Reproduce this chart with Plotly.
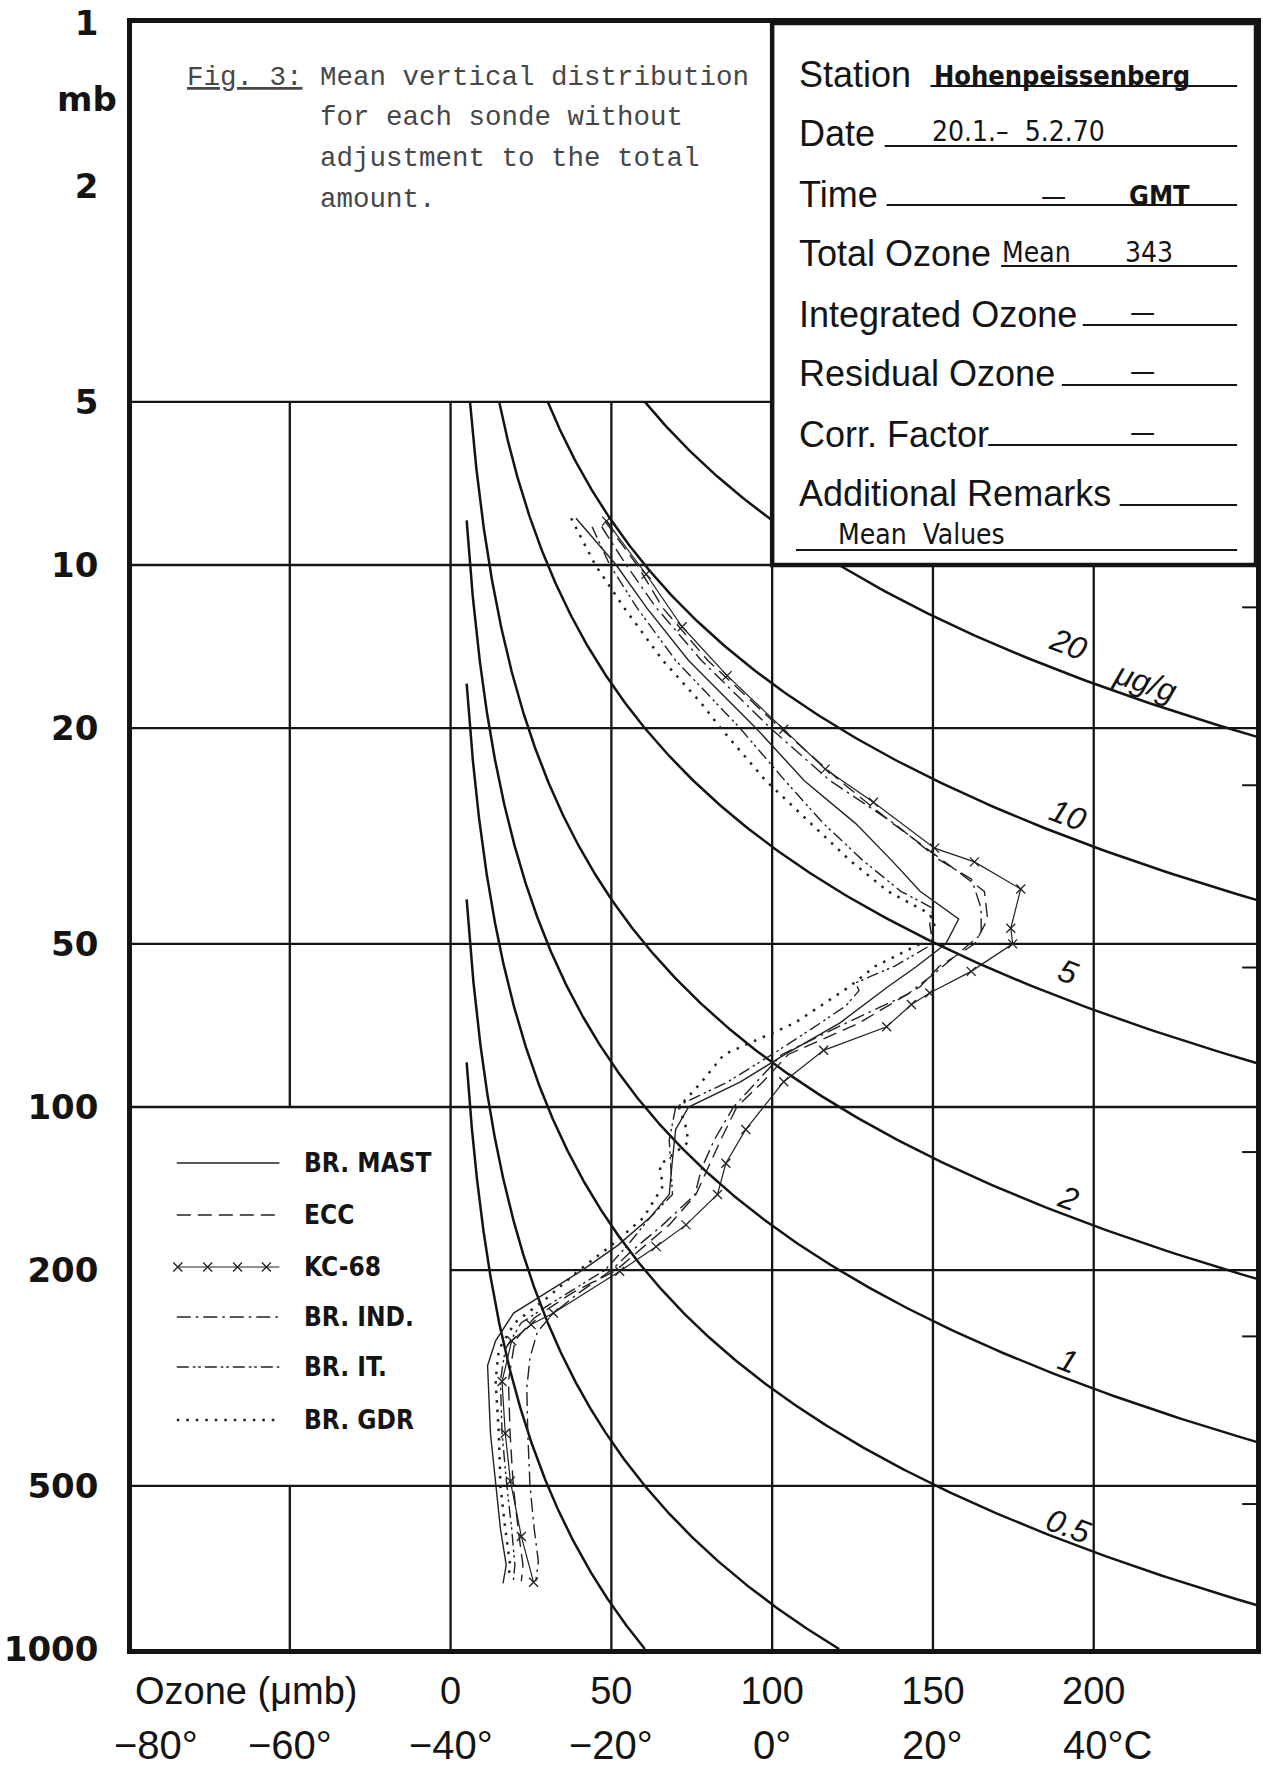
import numpy as np
import plotly.graph_objects as go

# ===================== data =====================
# pressure (mb) and ozone partial pressure (µmb) for each sonde type
MAST_P = [8.2, 10, 12, 15, 20, 25, 30, 35, 40, 45, 50, 55, 60, 70, 80, 90, 100, 110, 125, 145,
          160, 180, 200, 220, 240, 270, 300, 400, 500, 600, 700, 757]
MAST_O3 = [39, 51.5, 61, 74, 95, 110, 126, 137, 146, 158, 154, 145, 136, 121, 104, 90, 74, 70, 69, 68,
           62, 52, 41, 30, 19.6, 14, 11.5, 12.4, 14, 15.5, 17.3, 16.3]

ECC_P = [8.3, 10, 12, 15, 20, 25, 30, 35, 40, 45, 50, 55, 60, 70, 80, 90, 100, 115, 130, 145,
         165, 185, 200, 220, 245, 270, 320, 400, 500, 600, 700, 750]
ECC_O3 = [48, 58, 66, 80, 102.6, 121, 137.6, 153, 166, 167, 163, 152, 146, 127, 105, 97, 89, 84, 80, 76.3,
          68, 58, 51.5, 38, 26, 20, 18, 18.5, 19.5, 21, 22.5, 22]

KC_P = [8.3, 10.4, 13, 16, 20.1, 23.8, 27.4, 33.3, 35.3, 39.6, 46.8, 50, 56.2, 61.6, 64.7, 71.1, 78.6, 89.8,
        110, 127, 145, 165, 181, 201, 240, 252, 270, 321, 400, 490, 620, 753]
KC_O3 = [48.5, 60.8, 72, 86, 103.6, 116.5, 131.5, 150.5, 162.9, 177.3, 174.2, 174.8, 161.9, 149, 143.3, 135.6,
         116, 103.6, 91.8, 85.6, 83, 73.2, 63.9, 52.6, 32, 25, 19, 16, 17, 18.6, 22, 25.8]

IND_P = [8.5, 10, 12, 15, 20, 25, 30, 35, 38, 43, 48, 52, 57, 62, 70, 80, 90, 100, 115, 130,
         145, 165, 185, 200, 220, 240, 260, 290, 330, 400, 500, 600, 690, 750]
IND_O3 = [47, 54.6, 64, 78, 99.5, 118, 138, 152, 162, 165, 165, 158, 150, 142, 123, 103, 95, 88, 82, 78,
          76, 66, 56, 50, 40, 32, 27, 24.7, 23.7, 24, 24.7, 26, 27.3, 26.5]

IT_P = [8.5, 10, 12, 15, 20, 25, 30, 35, 40, 43, 46, 50, 55, 59, 61, 65, 70, 80, 90, 100,
        115, 130, 145, 160, 180, 200, 225, 250, 280, 320, 400, 500, 600, 700, 750]
IT_O3 = [44, 49.5, 58, 70, 90, 104, 116, 128, 140, 150, 149, 150, 138, 126, 127, 123, 115, 100, 86, 70,
         68, 68.5, 69, 62, 55, 48, 34, 22, 17, 15.5, 16, 17.5, 19, 20, 19.5]

GDR_P = [8.2, 9, 10, 12, 15, 18, 20, 25, 30, 35, 40, 44, 47, 50, 55, 60, 70, 80, 90, 100,
         108, 116, 128, 140, 160, 180, 200, 225, 250, 280, 320, 400, 500, 600, 700, 740]
GDR_O3 = [37.5, 41, 45, 54, 66, 78, 84, 98, 112, 124, 136, 149, 151, 146, 132, 124, 107, 85, 78, 71,
          73, 74, 65, 66, 60, 50, 40, 30, 20, 15, 14, 15, 15.5, 17, 18.5, 18]

SONDE_NAMES = ["BR. MAST", "ECC", "KC-68", "BR. IND.", "BR. IT.", "BR. GDR"]

MIXING_RATIOS = [0.1, 0.2, 0.5, 1, 2, 5, 10, 20]          # µg/g isolines
LABELLED_RATIOS = [20, 10, 5, 2, 1, 0.5]
RATIO_TEXT = ["20", "10", "5", "2", "1", "0.5"]

P_TICKS = [1, 2, 5, 10, 20, 50, 100, 200, 500, 1000]
P_TICK_TEXT = ["1", "2", "5", "10", "20", "50", "100", "200", "500", "1000"]
O3_TICKS = [0, 50, 100, 150, 200]
O3_TICK_TEXT = ["0", "50", "100", "150", "200"]
TEMP_TICKS = [-80, -60, -40, -20, 0, 20, 40]
TEMP_TICK_TEXT = ["\u221280°", "\u221260°", "\u221240°", "\u221220°", "0°", "20°", "40°C"]
ALT_TICK_P = [540.2, 265.0, 121.1, 55.29, 25.49, 11.97]   # 5,10,...,30 km

INFO_LABELS = ["Station", "Date", "Time", "Total Ozone", "Integrated Ozone",
               "Residual Ozone", "Corr. Factor", "Additional Remarks"]
STATION = "Hohenpeissenberg"
DATE_TEXT = "20.1.\u2013  5.2.70"
TIME_TEXT = "\u2014"
TIME_ZONE = "GMT"
TOTAL_NOTE = "Mean"
TOTAL_OZONE = "343"
EMPTY_FIELD = "\u2014"
REMARK = "Mean  Values"
CAPTION_TAG = "Fig. 3:"
CAPTION_LINES = ["Mean vertical distribution", "for each sonde without",
                 "adjustment to the total", "amount."]

# ===================== layout constants =====================
W, H = 1263, 1771
L, R, T, B = 132, 1261, 23, 1649          # plot area in pixels
X_RANGE = [-99.07, 250.46]
K_MR = 29.0 / 48.0                          # µmb per (µg/g * mb)
INK = "#141414"
PEN = "#222222"


def xp(px):
    return (px - L) / (R - L)


def yp(py):
    return (B - py) / (B - T)


fig = go.Figure()

# ---------- grid (segments) ----------
V_GRID = {-50: [(5, 100), (500, 1000)], 0: [(5, 1000)], 50: [(5, 1000)],
          100: [(10, 1000)], 150: [(10, 1000)], 200: [(10, 1000)]}
FULL = [(X_RANGE[0], X_RANGE[1])]
H_GRID = {5: [(X_RANGE[0], 100)], 10: FULL, 20: FULL, 50: FULL, 100: FULL,
          200: [(0, X_RANGE[1])], 500: FULL}
gx, gy = [], []
for oz, segs in V_GRID.items():
    for p0, p1 in segs:
        gx += [oz, oz, None]
        gy += [p0, p1, None]
for p, segs in H_GRID.items():
    for x0, x1 in segs:
        gx += [x0, x1, None]
        gy += [p, p, None]
fig.add_trace(go.Scatter(x=gx, y=gy, mode="lines", line=dict(color=INK, width=2.3),
                         hoverinfo="skip", showlegend=False))

# ---------- mixing-ratio isolines ----------
ix, iy = [], []
for r in MIXING_RATIOS:
    p0 = max(5.0, 5.0 / (K_MR * r))
    ps = np.geomspace(p0, 1000, 500)
    oz = K_MR * r * ps
    keep = oz <= X_RANGE[1] + 3
    ix += list(oz[keep]) + [None]
    iy += list(ps[keep]) + [None]
fig.add_trace(go.Scatter(x=ix, y=iy, mode="lines", line=dict(color=INK, width=2.5),
                         hoverinfo="skip", showlegend=False))

# ---------- altitude ticks on right border ----------
ax_, ay_ = [], []
for p in ALT_TICK_P:
    ax_ += [X_RANGE[1] - 4.3, X_RANGE[1], None]
    ay_ += [p, p, None]
fig.add_trace(go.Scatter(x=ax_, y=ay_, mode="lines", line=dict(color=INK, width=2),
                         hoverinfo="skip", showlegend=False))

# ---------- sonde profiles ----------
STYLES = {
    "BR. MAST": dict(dash="solid", width=1.4),
    "ECC": dict(dash="14px,7px", width=1.4),
    "KC-68": dict(dash="solid", width=1.2),
    "BR. IND.": dict(dash="14px,5px,2.5px,5px", width=1.4),
    "BR. IT.": dict(dash="12px,4px,2.5px,3px,2.5px,4px", width=1.4),
    "BR. GDR": dict(dash="2.5px,7px", width=2.5),
}
KC_MARKER = dict(symbol="x-thin-open", size=9, color=PEN, line=dict(width=1.3, color=PEN))
SERIES = [(MAST_P, MAST_O3), (ECC_P, ECC_O3), (KC_P, KC_O3),
          (IND_P, IND_O3), (IT_P, IT_O3), (GDR_P, GDR_O3)]
for name, (ps, oz) in zip(SONDE_NAMES, SERIES):
    st = STYLES[name]
    if name == "KC-68":
        fig.add_trace(go.Scatter(x=oz, y=ps, mode="lines+markers", name=name,
                                 line=dict(color=PEN, width=st["width"], dash=st["dash"]),
                                 marker=KC_MARKER, showlegend=False))
    else:
        fig.add_trace(go.Scatter(x=oz, y=ps, mode="lines", name=name,
                                 line=dict(color=PEN, width=st["width"], dash=st["dash"]),
                                 showlegend=False))

# ---------- hand-drawn legend (separate pixel axes, transparent) ----------
LEG_ROWS = [1163, 1215, 1267, 1317, 1367, 1420]
LEG_X0, LEG_X1, LEG_TX = 177, 280, 303
for name, yrow in zip(SONDE_NAMES, LEG_ROWS):
    st = STYLES[name]
    fig.add_trace(go.Scatter(x=[LEG_X0, LEG_X1], y=[yrow, yrow], mode="lines",
                             line=dict(color=PEN, width=st["width"], dash=st["dash"]),
                             xaxis="x2", yaxis="y2", hoverinfo="skip", showlegend=False))
    if name == "KC-68":
        fig.add_trace(go.Scatter(x=[178, 208, 238, 267], y=[yrow] * 4, mode="markers",
                                 marker=KC_MARKER,
                                 xaxis="x2", yaxis="y2", hoverinfo="skip", showlegend=False))

# ---------- annotations ----------
ann = []


def A(text, x, y, font, xref="paper", yref="paper", xanchor="center", yanchor="middle", **kw):
    ann.append(dict(text=text, x=x, y=y, xref=xref, yref=yref, xanchor=xanchor,
                    yanchor=yanchor, showarrow=False, font=font, **kw))


NARROW = "Liberation Sans Narrow, DejaVu Sans Condensed, Liberation Sans, Arial"
F_BOTTOM = dict(family="Liberation Sans, Arial", size=38, color=INK)
F_INFO = dict(family="Liberation Sans, Arial", size=36, color=INK)
F_FILL = dict(family=NARROW, size=28, color=INK)
F_FILLB = dict(family=NARROW, size=27, color=INK, weight="bold")
F_CAP = dict(family="Liberation Mono, DejaVu Sans Mono", size=27.5, color="#474747")
F_LEG = dict(family=NARROW, size=26, color=INK, weight="bold")
F_RATIO = dict(family="Liberation Sans, Arial", size=32, color=INK, style="italic")
F_Y = dict(family="DejaVu Sans", size=34, color=INK, weight="bold")

# legend labels
for name, yrow in zip(SONDE_NAMES, LEG_ROWS):
    A(name, LEG_TX, yrow, F_LEG, xref="x2", yref="y2", xanchor="left")

# "mb" unit on pressure axis
A("mb", xp(119), yp(99), F_Y, xanchor="right")

# bottom: ozone title + temperature row
A("Ozone (\u03bcmb)", xp(133), yp(1691), F_BOTTOM, xanchor="left")
for t, txt in zip(TEMP_TICKS, TEMP_TICK_TEXT):
    oz = (t + 40) * 2.5
    if oz < X_RANGE[0]:
        A(txt, 0, yp(1745), dict(F_BOTTOM, size=40), xanchor="left", xshift=-20)
    elif txt.endswith("C"):
        A(txt, oz, yp(1745), dict(F_BOTTOM, size=40), xref="x", xshift=14)
    else:
        A(txt, oz, yp(1745), dict(F_BOTTOM, size=40), xref="x")

# isoline labels
LABEL_O3 = 192
LABEL_SHIFT = [30, 22, 28, 18, 18, 16]
for r, txt, sh in zip(LABELLED_RATIOS, RATIO_TEXT, LABEL_SHIFT):
    p = LABEL_O3 / (K_MR * r)
    ang = np.degrees(np.arctan(72.9 / LABEL_O3))
    A(txt, LABEL_O3, np.log10(p), F_RATIO, xref="x", yref="y", textangle=ang, yshift=sh)
p_mu = 216 / (K_MR * 20)
A("\u03bcg/g", 216, np.log10(p_mu), F_RATIO, xref="x", yref="y",
  textangle=np.degrees(np.arctan(72.9 / 216)), yshift=20)

# caption
A("<u>" + CAPTION_TAG + "</u>", xp(185), yp(77), F_CAP, xanchor="left")
for i, line in enumerate(CAPTION_LINES):
    A(line, xp(319), yp(77 + 41 * i), F_CAP, xanchor="left")

# info box
ROW_Y = [74 + 60 * i for i in range(8)]
for lab, yy in zip(INFO_LABELS, ROW_Y):
    A(lab, xp(800), yp(yy), F_INFO, xanchor="left")
A(STATION, xp(936), yp(ROW_Y[0] + 1), F_FILLB, xanchor="left")
A(DATE_TEXT, xp(934), yp(ROW_Y[1] - 2), F_FILL, xanchor="left")
A(TIME_TEXT, xp(1058), yp(ROW_Y[2] + 2), F_FILL)
A(TIME_ZONE, xp(1131), yp(ROW_Y[2] + 1), F_FILLB, xanchor="left")
A(TOTAL_NOTE, xp(1004), yp(ROW_Y[3] - 1), F_FILL, xanchor="left")
A(TOTAL_OZONE, xp(1127), yp(ROW_Y[3] - 1), F_FILL, xanchor="left")
for yy in ROW_Y[4:7]:
    A(EMPTY_FIELD, xp(1147), yp(yy - 2), F_FILL)
A(REMARK, xp(839), yp(534), F_FILL, xanchor="left")

# ---------- shapes: info box + underlines ----------
shapes = [dict(type="rect", xref="x", yref="paper", x0=100, x1=X_RANGE[1],
               y0=1 - np.log10(10) / 3, y1=1, fillcolor="white",
               line=dict(color=INK, width=4.5), layer="above")]
UNDERLINES = [(934, 86), (888, 146), (890, 205), (1005, 266), (1087, 325),
              (1066, 385), (992, 445), (1124, 505), (799, 550)]
for x0, yy in UNDERLINES:
    shapes.append(dict(type="line", xref="paper", yref="paper", x0=xp(x0), x1=xp(1242),
                       y0=yp(yy), y1=yp(yy), line=dict(color=INK, width=2), layer="above"))

fig.update_layout(
    width=W, height=H, autosize=False,
    margin=dict(l=L, r=W - R, t=T, b=H - B, pad=0),
    paper_bgcolor="white", plot_bgcolor="rgba(0,0,0,0)",
    showlegend=False,
    xaxis=dict(range=X_RANGE, domain=[0, 1], showgrid=False, zeroline=False,
               showline=True, mirror=True, linecolor=INK, linewidth=4.5,
               ticks="", tickvals=O3_TICKS, ticktext=O3_TICK_TEXT,
               tickfont=F_BOTTOM, ticklabelstandoff=5, fixedrange=True),
    yaxis=dict(type="log", range=[3, 0], domain=[0, 1], showgrid=False, zeroline=False,
               showline=True, mirror=True, linecolor=INK, linewidth=4.5,
               ticks="", tickvals=P_TICKS, ticktext=P_TICK_TEXT,
               tickfont=F_Y, ticklabelstandoff=22, fixedrange=True),
    xaxis2=dict(domain=[0, xp(452)], range=[L, 452], visible=False, anchor="y2",
                fixedrange=True),
    yaxis2=dict(domain=[yp(1486), yp(1106)], range=[1486, 1106], visible=False,
                anchor="x2", fixedrange=True),
    annotations=ann,
    shapes=shapes,
)

fig.write_html("out.html", config={"displayModeBar": False},
               post_script="document.body.style.margin='0';document.body.style.padding='0';")
